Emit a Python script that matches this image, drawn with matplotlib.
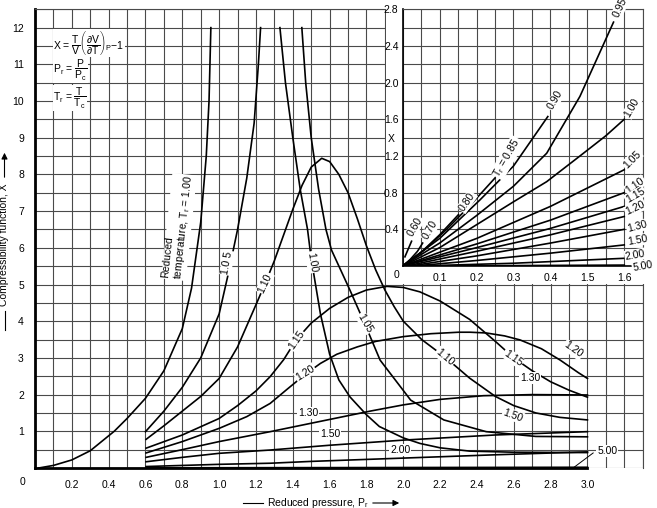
import matplotlib
matplotlib.use("Agg")
import matplotlib.pyplot as plt
import numpy as np
from matplotlib.patches import Rectangle

plt.rcParams['font.family'] = ['Liberation Sans', 'DejaVu Sans']
plt.rcParams['font.size'] = 7.5
plt.rcParams['mathtext.fontset'] = 'custom'
plt.rcParams['mathtext.rm'] = 'Liberation Sans'
plt.rcParams['mathtext.it'] = 'Liberation Sans'
plt.rcParams['mathtext.sf'] = 'Liberation Sans'
plt.rcParams['mathtext.bf'] = 'Liberation Sans:bold'

# ---- main chart: X against reduced pressure, one curve per Tr ----
tr100_left_p = [0.02, 0.1, 0.2, 0.3, 0.43, 0.5, 0.6, 0.7, 0.8, 0.85, 0.9, 0.93, 0.945, 0.955]
tr100_left_x = [0.0, 0.07, 0.22, 0.47, 1.0, 1.35, 1.9, 2.65, 3.8, 4.9, 6.7, 8.5, 10.0, 12.0]

tr105_up_p = [0.6, 0.7, 0.8, 0.9, 1.0, 1.05, 1.1, 1.15, 1.19, 1.213, 1.225]
tr105_up_x = [0.99, 1.55, 2.2, 3.0, 4.2, 5.3, 6.5, 7.9, 9.4, 11.0, 12.0]

tr100_right_p = [1.33, 1.36, 1.40, 1.44, 1.48, 1.50, 1.55, 1.60, 1.65, 1.71, 1.8, 1.87, 2.0, 2.09, 2.2, 2.36, 2.6, 3.0]
tr100_right_x = [12.0, 10.5, 9.0, 7.6, 6.5, 5.7, 4.2, 3.1, 2.4, 1.94, 1.45, 1.13, 0.82, 0.67, 0.55, 0.46, 0.43, 0.42]

tr105_down_p = [1.449, 1.47, 1.50, 1.54, 1.58, 1.61, 1.71, 1.79, 1.874, 2.04, 2.22, 2.45, 2.72, 3.0]
tr105_down_x = [12.0, 10.5, 9.0, 7.6, 6.5, 5.94, 4.85, 3.94, 2.94, 1.85, 1.31, 0.99, 0.86, 0.85]

tr110_p = [0.603, 0.7, 0.8, 0.9, 1.0, 1.1, 1.2, 1.25, 1.3, 1.35, 1.4, 1.45, 1.5, 1.557, 1.6, 1.65,
           1.7, 1.75, 1.8, 1.85, 1.9, 1.95, 2.0, 2.1, 2.227, 2.36, 2.5, 2.6, 2.72, 2.85, 3.0]
tr110_x = [0.78, 1.15, 1.55, 1.95, 2.44, 3.3, 4.45, 5.03, 5.65, 6.35, 7.05, 7.7, 8.2, 8.44, 8.35, 8.0,
           7.5, 6.8, 6.05, 5.4, 4.85, 4.4, 4.0, 3.5, 3.02, 2.45, 1.95, 1.7, 1.5, 1.38, 1.31]

tr115_p = [0.603, 0.8, 1.0, 1.1, 1.2, 1.277, 1.35, 1.418, 1.5, 1.6, 1.7, 1.8, 1.91, 2.0, 2.09, 2.2,
           2.36, 2.5, 2.6, 2.7, 2.8, 2.9, 3.0]
tr115_x = [0.54, 0.9, 1.35, 1.7, 2.1, 2.49, 2.95, 3.49, 3.95, 4.35, 4.65, 4.85, 4.95, 4.92, 4.8, 4.55,
           4.05, 3.45, 3.0, 2.65, 2.35, 2.12, 1.93]

tr120_p = [0.603, 0.8, 1.0, 1.15, 1.277, 1.37, 1.467, 1.55, 1.639, 1.75, 1.85, 2.0, 2.15, 2.3, 2.363,
           2.45, 2.55, 2.634, 2.75, 2.852, 2.95, 3.0]
tr120_x = [0.41, 0.72, 1.08, 1.4, 1.76, 2.15, 2.55, 2.85, 3.1, 3.3, 3.45, 3.58, 3.66, 3.7, 3.7,
           3.68, 3.6, 3.49, 3.25, 2.94, 2.6, 2.44]

tr130_p = [0.603, 0.8, 1.0, 1.277, 1.5, 1.82, 2.0, 2.2, 2.435, 2.7, 3.0]
tr130_x = [0.29, 0.5, 0.72, 0.99, 1.22, 1.55, 1.72, 1.87, 1.97, 2.0, 1.99]

tr150_p = [0.603, 0.8, 1.0, 1.277, 1.6, 2.0, 2.5, 3.0]
tr150_x = [0.17, 0.29, 0.4, 0.49, 0.62, 0.76, 0.9, 0.99]

tr200_p = [0.603, 1.0, 1.277, 1.5, 2.0, 2.5, 3.0]
tr200_x = [0.04, 0.10, 0.13, 0.18, 0.27, 0.36, 0.44]

tr500_p = [0.603, 1.5, 3.0]
tr500_x = [0.005, 0.01, 0.02]

main_x_ticks = [0.2, 0.4, 0.6, 0.8, 1.0, 1.2, 1.4, 1.6, 1.8, 2.0, 2.2, 2.4, 2.6, 2.8, 3.0]
main_y_ticks = [1, 2, 3, 4, 5, 6, 7, 8, 9, 10, 11, 12]

# ---- inset: low pressure region ----
in060_p = [0.006, 0.024]
in060_x = [0.10, 0.27]
in070_p = [0.0, 0.02, 0.04, 0.054]
in070_x = [0.0, 0.07, 0.16, 0.25]
in080_p = [0.0, 0.05, 0.1, 0.151]
in080_x = [0.0, 0.15, 0.34, 0.56]
in085_p = [0.0, 0.06, 0.119, 0.18, 0.25]
in085_x = [0.0, 0.18, 0.40, 0.65, 0.96]
in090_p = [0.0, 0.1, 0.209, 0.30, 0.393]
in090_x = [0.0, 0.3, 0.72, 1.09, 1.63]
in095_p = [0.0, 0.1, 0.2, 0.3, 0.39, 0.48, 0.571]
in095_x = [0.0, 0.25, 0.55, 0.87, 1.23, 1.85, 2.66]
in100_p = [0.0, 0.1, 0.2, 0.3, 0.39, 0.48, 0.55, 0.6]
in100_x = [0.0, 0.2, 0.45, 0.7, 0.92, 1.2, 1.42, 1.6]
in105_p = [0.0, 0.2, 0.4, 0.6]
in105_x = [0.0, 0.3, 0.65, 1.05]
in110_p = [0.0, 0.2, 0.4, 0.6]
in110_x = [0.0, 0.24, 0.5, 0.80]
in115_p = [0.0, 0.2, 0.4, 0.6]
in115_x = [0.0, 0.2, 0.41, 0.65]
in120_p = [0.01, 0.2, 0.4, 0.6]
in120_x = [0.0, 0.16, 0.34, 0.54]
in130_p = [0.02, 0.2, 0.4, 0.6]
in130_x = [0.0, 0.11, 0.25, 0.40]
in150_p = [0.03, 0.2, 0.4, 0.6]
in150_x = [0.0, 0.06, 0.14, 0.23]
in200_p = [0.04, 0.3, 0.6]
in200_x = [0.0, 0.03, 0.084]
in500_p = [0.05, 0.6]
in500_x = [0.0, 0.01]

inset_x_ticks = [0.1, 0.2, 0.3, 0.4, 0.5, 0.6]
inset_x_labels = ['0.1', '0.2', '0.3', '0.4', '1.5', '1.6']
inset_y_ticks = [0.4, 0.8, 1.2, 1.6, 2.0, 2.4, 2.8]

GRID = '#4a4a4a'
W, H = 657, 508

fig = plt.figure(figsize=(W / 100, H / 100), dpi=100)
ax = fig.add_axes([35 / W, 40 / H, (642.7 - 35) / W, (468 - 9.3) / H])
ax.set_xlim(0, 3.3)
ax.set_ylim(0, 12.5)
ax.set_axisbelow(True)
ax.set_xticks(main_x_ticks)
ax.set_xticklabels(['%.1f' % v for v in main_x_ticks])
ax.set_xticks(np.arange(0, 3.31, 0.1), minor=True)
ax.set_yticks(main_y_ticks)
ax.set_yticks(np.arange(0, 12.51, 0.5), minor=True)
ax.tick_params(which='both', length=0)
ax.tick_params(axis='x', pad=9)
ax.tick_params(axis='y', pad=8)
ax.grid(which='both', color=GRID, lw=0.8)
for s in ['left', 'bottom']:
    ax.spines[s].set_linewidth(2)
ax.spines['bottom'].set_bounds(0, 3.0)
for s in ['top', 'right']:
    ax.spines[s].set_linewidth(0.8)
    ax.spines[s].set_color(GRID)

curves = [(tr100_left_p, tr100_left_x), (tr105_up_p, tr105_up_x), (tr100_right_p, tr100_right_x),
          (tr105_down_p, tr105_down_x), (tr110_p, tr110_x), (tr115_p, tr115_x), (tr120_p, tr120_x),
          (tr130_p, tr130_x), (tr150_p, tr150_x), (tr200_p, tr200_x), (tr500_p, tr500_x)]
for p, x in curves:
    ax.plot(p, x, color='black', lw=1.2, zorder=2)

box = dict(fc='white', ec='none', pad=0.6)
main_labels = [
    ('1.0 5', 1.043, 5.59, 80), ('1.10', 1.249, 5.04, 65), ('1.00', 1.505, 5.61, -80),
    ('1.15', 1.418, 3.49, 55), ('1.20', 1.467, 2.59, 32), ('1.05', 1.793, 3.95, -60),
    ('1.10', 2.227, 3.02, -40), ('1.15', 2.596, 3.0, -35), ('1.20', 2.922, 3.22, -35),
    ('1.30', 1.483, 1.50, 0), ('1.30', 2.689, 2.45, 0), ('1.50', 1.602, 0.93, 0),
    ('1.50', 2.596, 1.44, -20), ('2.00', 1.983, 0.49, 0), ('5.00', 3.107, 0.46, 0),
]
for t, x, y, r in main_labels:
    ax.text(x, y, t, rotation=r, ha='center', va='center', bbox=box, zorder=4)
ax.plot([2.922, 3.031], [0.0, 0.41], color='black', lw=0.7, zorder=4)

ax.text(0.777, 6.57, 'Reduced\ntemperature, T$_\\mathregular{r}$ = 1.00', rotation=84,
        ha='center', va='center', multialignment='left', bbox=box, zorder=4, linespacing=1.1)

ax.text(0.098, 11.58, r'X = $\dfrac{\mathregular{T}}{\mathregular{V}}\left(\dfrac{\partial \mathregular{V}}{\partial \mathregular{T}}\right)_\mathregular{P}$$-$1',
        ha='left', va='center', bbox=dict(fc='white', ec='none', pad=0.2), zorder=4)
ax.text(0.098, 10.84, r'P$_\mathregular{r}$ = $\dfrac{\mathregular{P}}{\mathregular{P_c}}$',
        ha='left', va='center', bbox=dict(fc='white', ec='none', pad=0.2), zorder=4)
ax.text(0.098, 10.08, r'T$_\mathregular{r}$ = $\dfrac{\mathregular{T}}{\mathregular{T_c}}$',
        ha='left', va='center', bbox=dict(fc='white', ec='none', pad=0.2), zorder=4)

# white box behind the inset
ax.add_patch(Rectangle((1.905, 5.02), 1.5, 7.6, fc='white', ec='none', zorder=3, clip_on=False))

fig.text(22.7 / W, 1 - 482 / H, '0', ha='center', va='center')
fig.text(318 / W, 1 - 503 / H, 'Reduced pressure, P$_\\mathregular{r}$', ha='center', va='center')
fig.add_artist(plt.Line2D([243 / W, 263 / W], [1 - 503 / H] * 2, color='black', lw=0.8))
ax.annotate('', xy=(402 / W, 1 - 503 / H), xytext=(370 / W, 1 - 503 / H), xycoords='figure fraction',
            arrowprops=dict(arrowstyle='-|>', color='black', lw=0.8, mutation_scale=9))
fig.text(4.5 / W, 1 - 245 / H, 'Compressibility function, X', rotation=90, ha='center', va='center')
fig.add_artist(plt.Line2D([4.5 / W] * 2, [1 - 330 / H, 1 - 311 / H], color='black', lw=0.8))
ax.annotate('', xy=(4.5 / W, 1 - 150 / H), xytext=(4.5 / W, 1 - 180 / H), xycoords='figure fraction',
            arrowprops=dict(arrowstyle='-|>', color='black', lw=0.8, mutation_scale=9))

# ---- inset ----
ins = fig.add_axes([402.7 / W, (H - 266) / H, (642.7 - 402.7) / W, (266 - 9.3) / H])
ins.set_facecolor('white')
ins.set_xlim(0, 0.65)
ins.set_ylim(0, 2.8)
ins.set_axisbelow(True)
ins.set_xticks(inset_x_ticks)
ins.set_xticklabels(inset_x_labels)
ins.set_xticks(np.arange(0, 0.651, 0.05), minor=True)
ins.set_yticks(inset_y_ticks)
ins.set_yticks(np.arange(0, 2.81, 0.2), minor=True)
ins.tick_params(which='both', length=0)
ins.tick_params(axis='x', pad=5)
ins.tick_params(axis='y', pad=3)
ins.grid(which='both', color=GRID, lw=0.8)
for s in ['left', 'bottom']:
    ins.spines[s].set_linewidth(1.2)
for s in ['top', 'right']:
    ins.spines[s].set_linewidth(0.8)
    ins.spines[s].set_color(GRID)

inset_curves = [(in060_p, in060_x), (in070_p, in070_x), (in080_p, in080_x), (in085_p, in085_x),
                (in090_p, in090_x), (in095_p, in095_x), (in100_p, in100_x), (in105_p, in105_x),
                (in110_p, in110_x), (in115_p, in115_x), (in120_p, in120_x), (in130_p, in130_x),
                (in150_p, in150_x), (in200_p, in200_x), (in500_p, in500_x)]
for p, x in inset_curves:
    ins.plot(p, x, color='black', lw=1.2, zorder=2)

inset_labels = [
    ('0.95', 0.589, 2.82, 65), ('0.90', 0.413, 1.81, 60), ('T$_\\mathregular{r}$ = 0.85', 0.283, 1.18, 60),
    ('0.80', 0.174, 0.70, 55), ('0.70', 0.074, 0.39, 60), ('0.60', 0.033, 0.43, 60),
    ('1.00', 0.621, 1.73, 60), ('1.05', 0.621, 1.16, 45), ('1.10', 0.63, 0.88, 35),
    ('1.15', 0.63, 0.77, 30), ('1.20', 0.63, 0.63, 25), ('1.30', 0.635, 0.43, 15),
    ('1.50', 0.635, 0.28, 10), ('2.00', 0.63, 0.12, 10), ('5.00', 0.65, 0.0, 10),
]
for t, x, y, r in inset_labels:
    ins.text(x, y, t, rotation=r, ha='center', va='center', bbox=box, zorder=4, clip_on=False)

fig.text(396 / W, 1 - 275 / H, '0', ha='center', va='center')
fig.text(391 / W, 1 - 139 / H, 'X', ha='center', va='center')

fig.savefig('out.png', dpi=100)
